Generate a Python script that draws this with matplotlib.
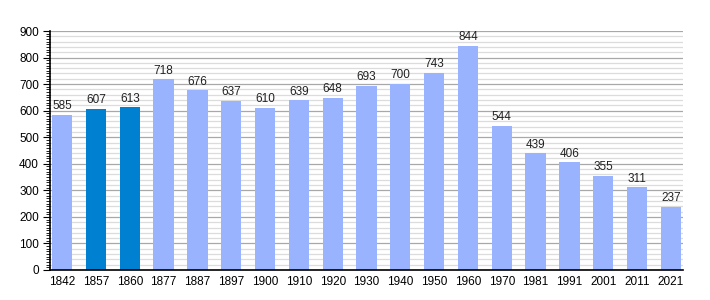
import matplotlib
matplotlib.use("Agg")
import matplotlib.pyplot as plt
from matplotlib.ticker import MultipleLocator

years = ["1842", "1857", "1860", "1877", "1887", "1897", "1900", "1910", "1920", "1930",
         "1940", "1950", "1960", "1970", "1981", "1991", "2001", "2011", "2021"]
population = [585, 607, 613, 718, 676, 637, 610, 639, 648, 693,
              700, 743, 844, 544, 439, 406, 355, 311, 237]
highlighted = ["1857", "1860"]

plt.rcParams['font.family'] = ['Liberation Sans', 'DejaVu Sans']

fig = plt.figure(figsize=(7.1, 3.0), dpi=100)
ax = fig.add_axes([50 / 710, 30 / 300, 633 / 710, 239 / 300])

# grille : fine tous les 20, marquée tous les 100
for v in range(20, 901, 20):
    if v % 100 == 0:
        ax.axhline(v, color="#a8a8a8", lw=0.9, zorder=0)
    else:
        ax.axhline(v, color="#dcdcdc", lw=0.9, zorder=0)

x = range(len(years))
colors = ["#0080d0" if y in highlighted else "#99b3ff" for y in years]
bars = ax.bar(x, population, width=0.6, color=colors, zorder=2)

for xi, v in zip(x, population):
    ax.text(xi, v + 10, str(v), ha="center", va="bottom", fontsize=8.5, color="#222222")

ax.set_xlim(-0.36, len(years) - 1 + 0.36)
ax.set_ylim(0, 900)
ax.set_xticks(list(x))
ax.set_xticklabels(years, fontsize=8.5)
ax.tick_params(axis="x", length=0, pad=4)
ax.yaxis.set_major_locator(MultipleLocator(100))
ax.yaxis.set_minor_locator(MultipleLocator(10))
ax.tick_params(axis="y", which="major", length=5, labelsize=8.5, pad=3)
ax.tick_params(axis="y", which="minor", length=3)

for side in ["top", "right"]:
    ax.spines[side].set_visible(False)
ax.spines["left"].set_linewidth(1.2)
ax.spines["bottom"].set_linewidth(1.2)

fig.savefig("out.png", dpi=100)
